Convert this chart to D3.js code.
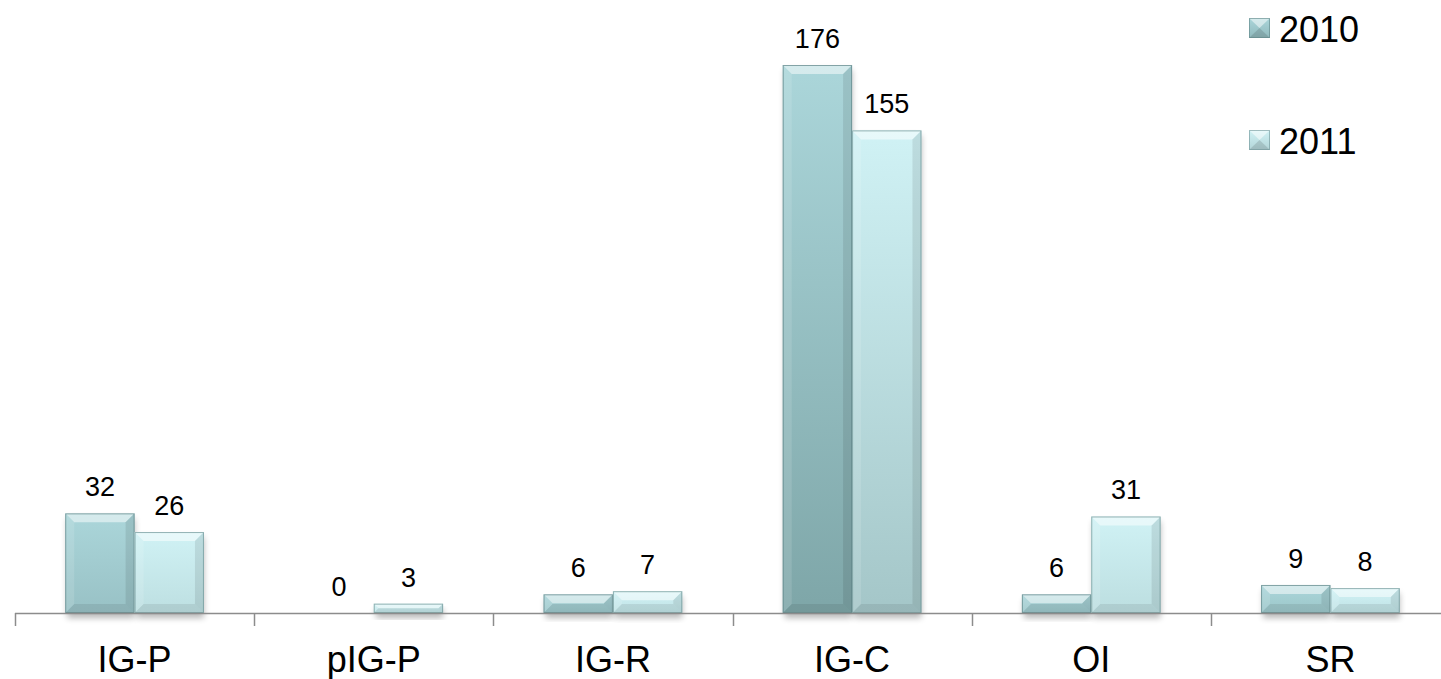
<!DOCTYPE html>
<html>
<head>
<meta charset="utf-8">
<script src="https://cdn.jsdelivr.net/npm/d3@7"></script>
<style>
html,body{margin:0;padding:0;background:#fff;overflow:hidden;}
svg{display:block;font-family:"Liberation Sans",Arial,Helvetica,sans-serif;}
</style>
</head>
<body>
<svg id="chart" width="1441" height="679"></svg>
<script>
const categories = ["IG-P", "pIG-P", "IG-R", "IG-C", "OI", "SR"];
const seriesNames = ["2010", "2011"];
const values2010 = [32, 0, 6, 176, 6, 9];
const values2011 = [26, 3, 7, 155, 31, 8];
const seriesValues = [values2010, values2011];

const W = 1441, H = 679;
const svg = d3.select("#chart");
const baseY = 613, topY = 65;

const x = d3.scaleBand().domain(categories).range([15, 1450]).paddingInner(0.42).paddingOuter(0.21);
const x1 = d3.scaleBand().domain(seriesNames).range([0, x.bandwidth()]);
const y = d3.scaleLinear().domain([0, 176]).range([baseY, topY]);

const colors = {
  "2010": {top: "#abd6da", bottom: "#7ea6a8", edge: "#5f8587"},
  "2011": {top: "#d0f2f5", bottom: "#a0c2c4", edge: "#6f9597"}
};

const defs = svg.append("defs");
const blur = defs.append("filter").attr("id", "shadow").attr("x", "-20%").attr("y", "-20%").attr("width", "140%").attr("height", "140%");
blur.append("feGaussianBlur").attr("stdDeviation", 3);

const bars = [];
categories.forEach((c, i) => {
  seriesNames.forEach((s, j) => {
    const v = seriesValues[j][i];
    bars.push({cat: c, series: s, value: v, i, j});
  });
});

bars.forEach((d, k) => {
  const frac = (y(0) - y(d.value)) / (y(0) - y(176));
  const bottomCol = d3.interpolateRgb(colors[d.series].top, colors[d.series].bottom)(0.3 + 0.7 * frac);
  const g = defs.append("linearGradient").attr("id", "g" + k).attr("x1", 0).attr("y1", 0).attr("x2", 0).attr("y2", 1);
  g.append("stop").attr("offset", "0%").attr("stop-color", colors[d.series].top);
  g.append("stop").attr("offset", "100%").attr("stop-color", bottomCol);
  d.grad = "url(#g" + k + ")";
});

const gBars = svg.append("g");

gBars.selectAll("rect.shadow").data(bars.filter(d => d.value > 0)).join("rect")
  .attr("class", "shadow")
  .attr("x", d => x(d.cat) + x1(d.series) + 2)
  .attr("y", d => y(d.value) + 5)
  .attr("width", x1.bandwidth() - 2)
  .attr("height", d => y(0) - y(d.value))
  .attr("fill", "#000").attr("opacity", 0.28)
  .attr("filter", "url(#shadow)");

bars.filter(d => d.value > 0).forEach(d => {
  const bx = x(d.cat) + x1(d.series);
  const by = y(d.value);
  const bw = x1.bandwidth();
  const bh = y(0) - y(d.value);
  const b = Math.min(9, bh / 2, bw / 2);
  const g = gBars.append("g");
  g.append("rect").attr("x", bx).attr("y", by).attr("width", bw).attr("height", bh).attr("fill", d.grad);
  const poly = (pts, fill, op) => g.append("polygon").attr("points", pts.map(p => p.join(",")).join(" ")).attr("fill", fill).attr("opacity", op);
  poly([[bx, by], [bx + bw, by], [bx + bw - b, by + b], [bx + b, by + b]], "#ffffff", 0.5);
  poly([[bx, by], [bx + b, by + b], [bx + b, by + bh - b], [bx, by + bh]], "#ffffff", 0.12);
  poly([[bx + bw, by], [bx + bw, by + bh], [bx + bw - b, by + bh - b], [bx + bw - b, by + b]], "#000000", 0.09);
  poly([[bx, by + bh], [bx + b, by + bh - b], [bx + bw - b, by + bh - b], [bx + bw, by + bh]], "#000000", 0.08);
  g.append("rect").attr("x", bx + 0.5).attr("y", by + 0.5).attr("width", bw - 1).attr("height", Math.max(0, bh - 1))
    .attr("fill", "none").attr("stroke", colors[d.series].edge).attr("stroke-opacity", 0.7).attr("stroke-width", 1);
});

const gAxis = svg.append("g");
gAxis.append("line").attr("x1", x.range()[0]).attr("x2", W + 10).attr("y1", baseY + 0.5).attr("y2", baseY + 0.5)
  .attr("stroke", "#8c8c8c").attr("stroke-width", 1.5);
const boundaries = d3.range(categories.length + 1).map(i => x.range()[0] + i * x.step());
gAxis.selectAll("line.tick").data(boundaries).join("line").attr("class", "tick")
  .attr("x1", d => Math.round(d) + 0.5).attr("x2", d => Math.round(d) + 0.5)
  .attr("y1", baseY).attr("y2", baseY + 13)
  .attr("stroke", "#8c8c8c").attr("stroke-width", 1.5);

gAxis.selectAll("text.cat").data(categories).join("text").attr("class", "cat")
  .attr("x", d => x(d) + x.bandwidth() / 2).attr("y", 672)
  .attr("text-anchor", "middle").attr("font-size", 36).attr("fill", "#000")
  .text(d => d);

svg.append("g").selectAll("text").data(bars).join("text")
  .attr("x", d => x(d.cat) + x1(d.series) + x1.bandwidth() / 2)
  .attr("y", d => y(d.value) - 17)
  .attr("text-anchor", "middle").attr("font-size", 27).attr("fill", "#000")
  .text(d => d.value);

const leg = svg.append("g");
seriesNames.forEach((s, i) => {
  const ly = 18 + i * 112;
  const lx = 1249, sz = 21, sh = 20;
  const lg = defs.append("linearGradient").attr("id", "lg" + i).attr("x1", 0).attr("y1", 0).attr("x2", 0).attr("y2", 1);
  lg.append("stop").attr("offset", "0%").attr("stop-color", colors[s].top);
  lg.append("stop").attr("offset", "100%").attr("stop-color", d3.interpolateRgb(colors[s].top, colors[s].bottom)(0.6));
  const g = leg.append("g");
  g.append("rect").attr("x", lx).attr("y", ly).attr("width", sz).attr("height", sh).attr("fill", "url(#lg" + i + ")");
  g.append("polygon").attr("points", `${lx},${ly} ${lx + sz},${ly} ${lx + sz / 2},${ly + sh / 2}`).attr("fill", "#fff").attr("opacity", 0.5);
  g.append("polygon").attr("points", `${lx},${ly + sh} ${lx + sz / 2},${ly + sh / 2} ${lx + sz},${ly + sh}`).attr("fill", "#000").attr("opacity", 0.12);
  g.append("rect").attr("x", lx + 0.5).attr("y", ly + 0.5).attr("width", sz - 1).attr("height", sh - 1)
    .attr("fill", "none").attr("stroke", colors[s].edge).attr("stroke-opacity", 0.6);
  leg.append("text").attr("x", 1279).attr("y", ly + 24).attr("font-size", 36).attr("fill", "#000").text(s);
});
</script>
</body>
</html>
